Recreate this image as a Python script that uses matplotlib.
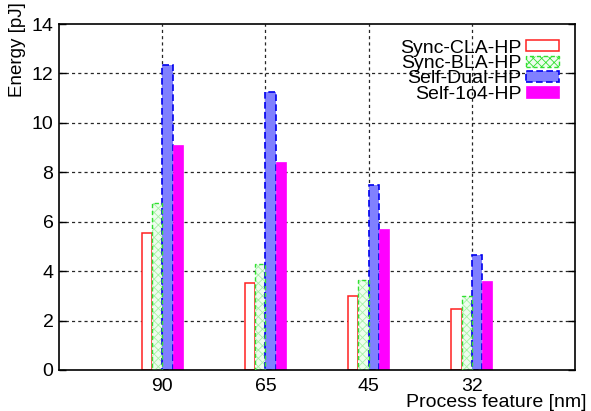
import matplotlib
matplotlib.use('Agg')
import matplotlib.pyplot as plt
import numpy as np

plt.rcParams['font.family'] = ['Liberation Sans', 'DejaVu Sans']
plt.rcParams['hatch.linewidth'] = 0.6

features = ['90', '65', '45', '32']
sync_cla = [5.55, 3.5, 3.0, 2.45]
sync_bla = [6.75, 4.3, 3.65, 3.0]
self_dual = [12.35, 11.25, 7.5, 4.65]
self_1o4 = [9.1, 8.4, 5.7, 3.6]
yticks = [0, 2, 4, 6, 8, 10, 12, 14]

fig = plt.figure(figsize=(5.91, 4.11), dpi=100)
ax = fig.add_axes([0.0998, 0.0998, 0.8732, 0.8418])

x = np.arange(1, len(features) + 1)
w = 0.1

# dotted grid behind the bars
for y in yticks[1:-1]:
    ax.axhline(y, color='0.15', lw=0.9, ls=(0, (2.5, 2.5)), zorder=0)
for xi in x:
    ax.axvline(xi, color='0.15', lw=0.9, ls=(0, (2.5, 2.5)), zorder=0)

ax.bar(x - 1.5 * w, sync_cla, w, facecolor='white', edgecolor='#ff2020',
       lw=1.1, label='Sync-CLA-HP', zorder=2)
# pale checkered fill, then a dashed outline on top
ax.bar(x - 0.5 * w, sync_bla, w, facecolor='#eefdee', edgecolor='#a6f2a6',
       lw=0, hatch='xxxx', zorder=2)
ax.bar(x - 0.5 * w, sync_bla, w, fill=False, edgecolor='#30e030',
       lw=1.0, ls=(0, (3, 2)), zorder=3)
ax.bar([0], [0], w, facecolor='#eefdee', edgecolor='#30e030', hatch='xxxx',
       lw=1.0, ls=(0, (3, 2)), label='Sync-BLA-HP')
ax.bar(x + 0.5 * w, self_dual, w, facecolor='#8080ff', edgecolor='#0000ee',
       lw=1.2, ls=(0, (4, 2)), label='Self-Dual-HP', zorder=2)
ax.bar(x + 1.5 * w, self_1o4, w, facecolor='#ff00ff', edgecolor='#ff00ff',
       lw=0.5, label='Self-1o4-HP', zorder=2)

ax.set_xlim(0, 5)
ax.set_ylim(0, 14)
ax.set_xticks(x)
ax.set_xticklabels(features)
ax.set_yticks(yticks)
ax.tick_params(axis='both', direction='in', length=5, width=1, labelsize=14,
               top=True, right=True, pad=4)
ax.tick_params(axis='x', top=False, length=0, pad=6)
for s in ax.spines.values():
    s.set_linewidth(1.2)
    s.set_color('black')

fig.text(0.03, 0.88, 'Energy [pJ]', rotation=90, ha='center', va='center', fontsize=13.5)
fig.text(0.993, 0.0097, 'Process feature [nm]', ha='right', va='baseline', fontsize=14)

leg = ax.legend(loc='upper right', bbox_to_anchor=(0.968, 0.955), frameon=False,
                markerfirst=False, fontsize=14, handlelength=1.65, handleheight=0.5,
                handletextpad=0.25, labelspacing=-0.08, borderaxespad=0, borderpad=0)
for t in leg.get_texts():
    t.set_ha('right')

fig.savefig('out.png', dpi=100)
